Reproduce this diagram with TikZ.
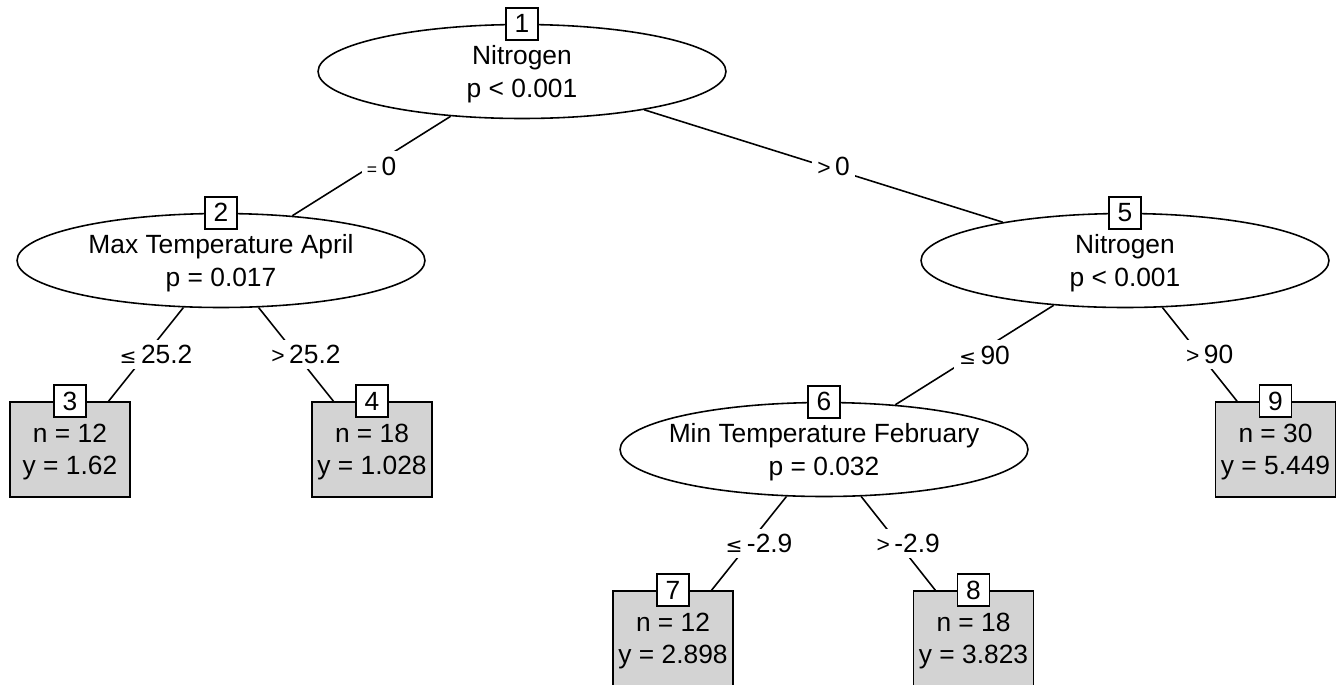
\documentclass[tikz,border=0pt]{standalone}
\usepackage{fontspec}
\setmainfont{Liberation Sans}
\newfontfamily\relfont{DejaVu Sans}
\usetikzlibrary{shapes.geometric}
\definecolor{leafgray}{RGB}{211,211,211}
\newcommand{\lesign}{{\relfont\fontsize{11.5}{11.5}\selectfont ≤}}
\newcommand{\gtsign}{{\fontsize{13}{13}\selectfont >}}
\newcommand{\eqsign}{{\fontsize{10}{10}\selectfont =}}
\begin{document}
\begin{tikzpicture}[
    x=0.02cm, y=-0.02cm,
    font=\fontsize{15}{18.4}\selectfont,
    split/.style={ellipse, draw, line width=0.9pt, minimum width=8.16cm, minimum height=1.88cm, inner sep=0pt},
    txt/.style={align=center, inner sep=0pt, text depth=0pt},
    leaf/.style={draw, fill=leafgray, line width=0.9pt, minimum width=2.4cm, minimum height=1.9cm, inner sep=0pt, align=center, text depth=0pt},
    idbox/.style={draw, fill=white, line width=0.9pt, minimum size=0.64cm, inner sep=0pt},
    cut/.style={fill=white, inner sep=3pt, xshift=0.2cm},
    branch/.style={line width=0.9pt}
]
\useasboundingbox (0,0) rectangle (1338,684);

\node[split] (n1) at (522,71.5) {};
\node[txt] (n1t) at (n1) {Nitrogen\\p < 0.001};
\node[split] (n2) at (221,260.5) {};
\node[txt] (n2t) at (n2) {Max Temperature April\\p = 0.017};
\node[split] (n5) at (1125,260.5) {};
\node[txt] (n5t) at (n5) {Nitrogen\\p < 0.001};
\node[split] (n6) at (824,449.5) {};
\node[txt] (n6t) at (n6) {Min Temperature February\\p = 0.032};

\node[leaf] (n3) at (70,449.5) {n = 12\\y = 1.62};
\node[leaf] (n4) at (372,449.5) {n = 18\\y = 1.028};
\node[leaf] (n9) at (1275.5,449.5) {n = 30\\y = 5.449};
\node[leaf] (n7) at (673,638.5) {n = 12\\y = 2.898};
\node[leaf] (n8) at (973.5,638.5) {n = 18\\y = 3.823};

\draw[branch] (n1) -- node[cut] {\eqsign\,0} (n2);
\draw[branch] (n1) -- node[cut] {\gtsign\,0} (n5);
\draw[branch] (n2) -- node[cut] {\lesign\,25.2} (n3);
\draw[branch] (n2) -- node[cut] {\gtsign\,25.2} (n4);
\draw[branch] (n5) -- node[cut] {\lesign\,90} (n6);
\draw[branch] (n5) -- node[cut] {\gtsign\,90} (n9);
\draw[branch] (n6) -- node[cut] {\lesign\,-2.9} (n7);
\draw[branch] (n6) -- node[cut] {\gtsign\,-2.9} (n8);

\node[idbox] (id1) at (n1.north) {1};
\node[idbox] (id2) at (n2.north) {2};
\node[idbox] (id3) at (n3.north) {3};
\node[idbox] (id4) at (n4.north) {4};
\node[idbox] (id5) at (n5.north) {5};
\node[idbox] (id6) at (n6.north) {6};
\node[idbox] (id7) at (n7.north) {7};
\node[idbox] (id8) at (n8.north) {8};
\node[idbox] (id9) at (n9.north) {9};
\end{tikzpicture}
\end{document}
